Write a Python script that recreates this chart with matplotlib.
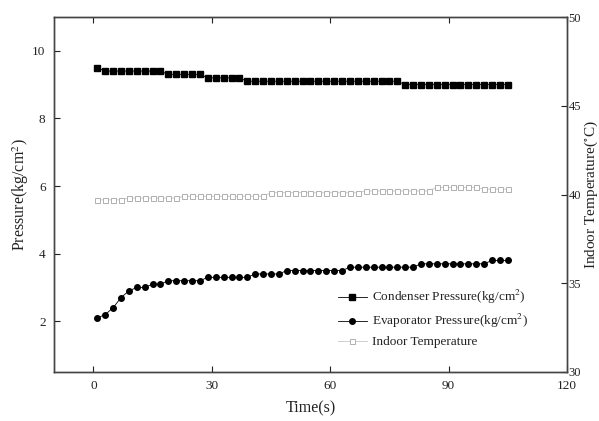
import numpy as np
import matplotlib.pyplot as plt

plt.rcParams['font.family'] = ['Liberation Serif', 'DejaVu Serif']
plt.rcParams['mathtext.fontset'] = 'stix'

# sample times (s), one reading every 2 s
time_s = list(range(1, 106, 2))

condenser = ([9.5] + [9.4] * 8 + [9.3] * 5 + [9.2] * 5 + [9.1] * 20 + [9.0] * 14)
evaporator = ([2.1, 2.2, 2.4, 2.7, 2.9, 3.0, 3.0, 3.1, 3.1] + [3.2] * 5 + [3.3] * 6
              + [3.4] * 4 + [3.5] * 8 + [3.6] * 9 + [3.7] * 9 + [3.8] * 3)
indoor_temp = ([39.7, 39.7, 39.7, 39.7, 39.8] + [39.8] * 6 + [39.9] * 11
               + [40.1] * 12 + [40.2] * 9 + [40.4] * 6 + [40.3] * 4)

ink = '#222222'

fig = plt.figure(figsize=(5.99, 4.21), dpi=100)
ax = fig.add_axes([0.090, 0.1164, 0.8566, 0.8432])
ax2 = ax.twinx()

l1, = ax.plot(time_s, condenser, color='black', lw=0.6, marker='s', ms=3.8,
              label='Condenser Pressure(kg/cm$^2$)')
l2, = ax.plot(time_s, evaporator, color='black', lw=0.6, marker='o', ms=4.0,
              label='Evaporator Pressure(kg/cm$^2$)')
l3, = ax2.plot(time_s, indoor_temp, color='#c8c8c8', lw=0.6, marker='s', ms=3.6,
               mfc='white', mec='#b0b0b0', mew=0.7, label='Indoor Temperature')

ax.set_xlim(-10, 120)
ax.set_ylim(0.5, 11)
ax2.set_ylim(30, 50)
ax.set_xticks([0, 30, 60, 90, 120])
ax.set_yticks([2, 4, 6, 8, 10])
ax2.set_yticks([30, 35, 40, 45, 50])

ax.tick_params(axis='both', direction='in', length=4, width=0.8, labelsize=9.5,
               colors=ink, top=True, pad=6)
ax2.tick_params(axis='y', direction='in', length=4, width=0.8, labelsize=9,
                colors=ink, pad=1)
for a in (ax, ax2):
    for sp in a.spines.values():
        sp.set_color('#444444')
        sp.set_linewidth(1.0)

ax.set_xlabel('Time(s)', fontsize=11.5, color=ink, labelpad=6)
ax.set_ylabel('Pressure(kg/cm$^2$)', fontsize=11.5, color=ink)
ax.yaxis.set_label_coords(-0.045, 0.5)
ax2.set_ylabel('Indoor Temperature($^{\\circ}$C)', fontsize=11, color=ink)
ax2.yaxis.set_label_coords(1.030, 0.5)

leg = ax.legend(handles=[l1, l2, l3], loc='upper left', bbox_to_anchor=(0.53, 0.27),
                frameon=False, fontsize=9.5, handlelength=2.2, handletextpad=0.4,
                labelspacing=0.45)
for t in leg.get_texts():
    t.set_color(ink)

fig.savefig('out.png', dpi=100)
